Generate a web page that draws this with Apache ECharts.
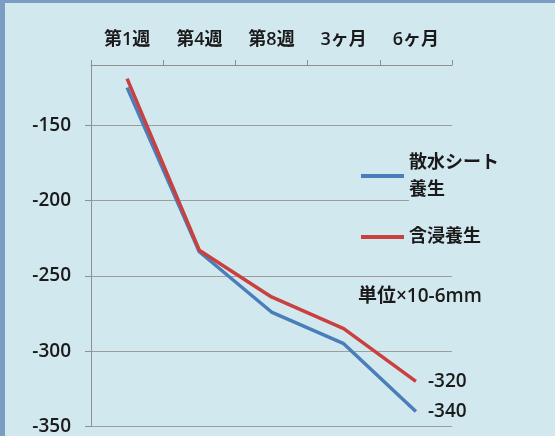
<!DOCTYPE html>
<html><head><meta charset="utf-8">
<script src="https://cdn.jsdelivr.net/npm/echarts@6/dist/echarts.min.js"></script>
<style>
html,body{margin:0;padding:0;width:555px;height:436px;background:#7b9dc1;overflow:hidden}
#chart{position:absolute;left:5px;top:3px;width:550px;height:433px}
</style></head><body><div id="chart"></div>
<script>
const categories = ['第1週', '第4週', '第8週', '3ヶ月', '6ヶ月'];
const sprinkleSheet = [-125, -234, -274, -295, -340];
const immersion = [-119, -233, -264, -285, -320];
const seriesNames = ['散水シート養生', '含浸養生'];
const yMin = -350, yMax = -110, yInterval = 50;
const unitText = '単位×10-6mm';

const FONT = "'Open Sans','Noto Sans CJK JP',sans-serif";
const TXT = '#1a1a1a';
const W = 600;
const chart = echarts.init(document.getElementById('chart'), null, {renderer: 'canvas'});
chart.setOption({
  backgroundColor: '#d2e8ef',
  animation: false,
  title: {
    text: unitText, left: 353, top: 284, padding: 0,
    textStyle: {fontSize: 19, fontWeight: W, color: TXT, fontFamily: FONT}
  },
  legend: {
    orient: 'vertical', left: 351, top: 127.5, itemGap: 7,
    itemWidth: 43, itemHeight: 4, icon: 'rect',
    data: [
      {name: seriesNames[0], textStyle: {padding: [27, 0, 0, 0], backgroundColor: '#d2e8ef'}},
      {name: seriesNames[1]}
    ],
    formatter: n => n === seriesNames[0] ? '散水シート\n養生' : n,
    textStyle: {fontSize: 18, fontWeight: W, lineHeight: 27, color: TXT, fontFamily: FONT}
  },
  grid: {left: 86, right: 103, top: 62, bottom: 8, containLabel: false},
  xAxis: {
    type: 'category', position: 'top', data: categories, boundaryGap: true,
    axisLine: {show: true, lineStyle: {color: '#8f8f8f', width: 1}},
    axisTick: {show: true, length: 5, lineStyle: {color: '#8f8f8f'}},
    axisLabel: {fontSize: 18, fontWeight: W, color: TXT, fontFamily: FONT, margin: 16},
    splitLine: {show: false}
  },
  yAxis: {
    type: 'value', min: yMin, max: yMax, interval: yInterval,
    axisLine: {show: true, lineStyle: {color: '#8f8f8f', width: 1}},
    axisTick: {show: true, length: 6, lineStyle: {color: '#8f8f8f'}},
    axisLabel: {fontSize: 19, fontWeight: W, color: TXT, fontFamily: FONT, margin: 20, showMaxLabel: false},
    splitLine: {show: true, lineStyle: {color: '#9d9d9d', width: 1}}
  },
  series: [
    {
      name: seriesNames[0], type: 'line', data: sprinkleSheet, symbol: 'none',
      lineStyle: {color: '#4a7ebb', width: 3.5}, itemStyle: {color: '#4a7ebb'},
      endLabel: {show: true, formatter: p => String(p.value), distance: 12, fontSize: 19, fontWeight: W, color: TXT, fontFamily: FONT}
    },
    {
      name: seriesNames[1], type: 'line', data: immersion, symbol: 'none',
      lineStyle: {color: '#c9403f', width: 3.5}, itemStyle: {color: '#c9403f'},
      endLabel: {show: true, formatter: p => String(p.value), distance: 12, fontSize: 19, fontWeight: W, color: TXT, fontFamily: FONT}
    }
  ]
});
</script></body></html>
